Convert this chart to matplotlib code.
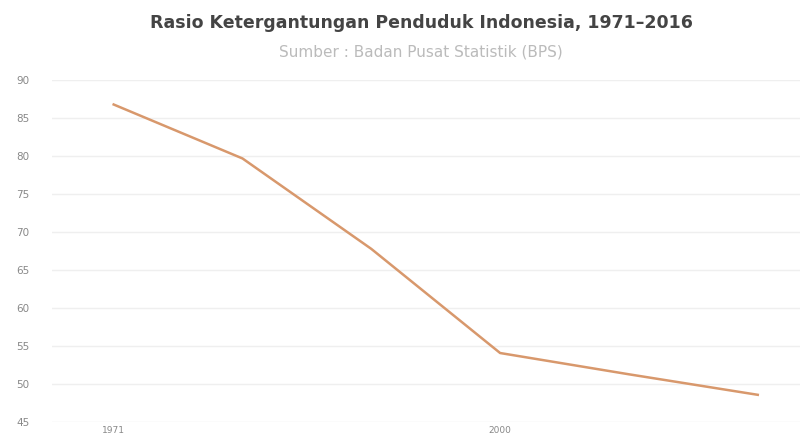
import matplotlib
matplotlib.use("Agg")
import matplotlib.pyplot as plt
import numpy as np

# ---------- Data ----------
years = ["1971", "1980", "1990", "2000", "2010", "2016"]
ratio = [86.8, 79.7, 67.8, 54.1, 51.3, 48.6]
shown_years = ["1971", "2000"]
y_ticks = [45, 50, 55, 60, 65, 70, 75, 80, 85, 90]

title = "Rasio Ketergantungan Penduduk Indonesia, 1971–2016"
subtitle = "Sumber : Badan Pusat Statistik (BPS)"

# ---------- Figure ----------
fig = plt.figure(figsize=(8.1, 4.43), dpi=100)
ax = fig.add_axes([0.064, 0.047, 0.924, 0.772])

x = np.arange(len(years))
ax.plot(x, ratio, color="#d8986c", linewidth=1.8, solid_joinstyle="round")

ax.set_ylim(45, 90)
ax.set_xlim(-0.48, 5.33)
ax.set_yticks(y_ticks)
ax.set_yticklabels([str(v) for v in y_ticks])
ax.set_xticks([years.index(y) for y in shown_years])
ax.set_xticklabels(shown_years)

ax.grid(axis="y", color="#efefef", linewidth=1)
ax.set_axisbelow(True)
for s in ax.spines.values():
    s.set_visible(False)
ax.tick_params(axis="y", length=0, pad=16, labelsize=7.5, labelcolor="#888888")
ax.tick_params(axis="x", length=0, pad=3, labelsize=6.5, labelcolor="#888888")

fig.text(0.52, 0.948, title, ha="center", va="center", fontsize=12.5,
         fontweight="bold", color="#444444", family="DejaVu Sans")
fig.text(0.52, 0.883, subtitle, ha="center", va="center", fontsize=11,
         color="#bbbbbb")

fig.savefig("out.png", dpi=100)
